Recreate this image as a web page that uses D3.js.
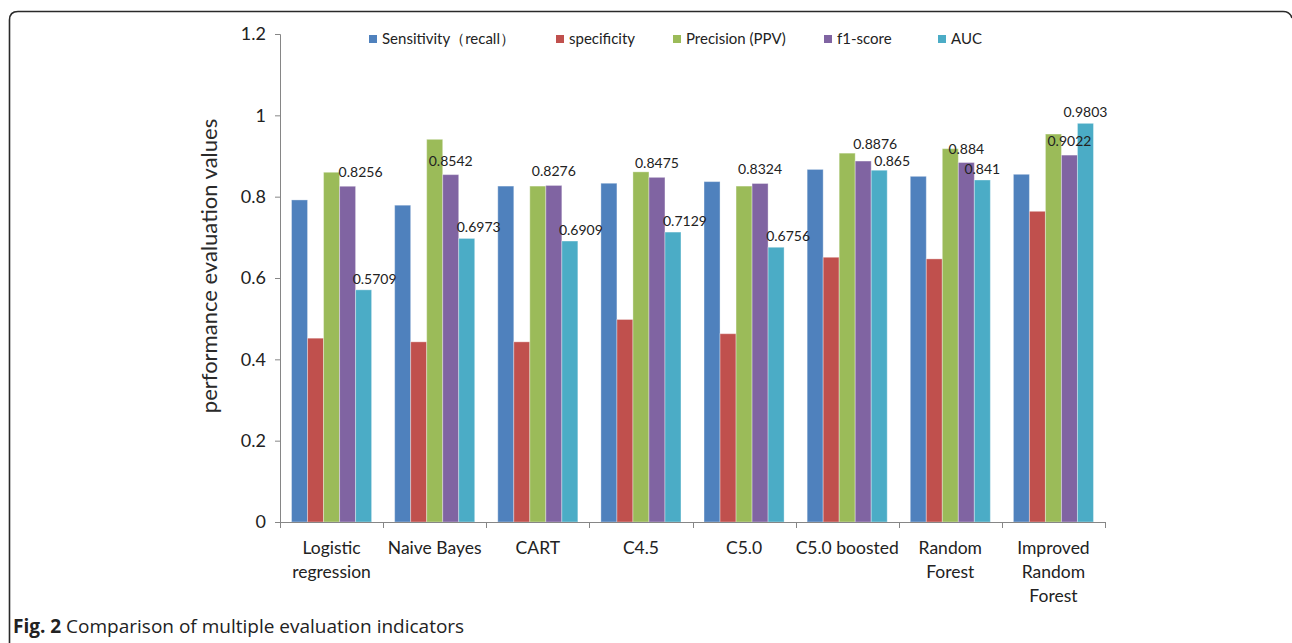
<!DOCTYPE html>
<html>
<head>
<meta charset="utf-8">
<script src="https://cdn.jsdelivr.net/npm/d3@7"></script>
<style>
  html, body { margin: 0; padding: 0; background: #fff; }
  svg { display: block; }
</style>
</head>
<body>
<svg id="chart" width="1292" height="643"></svg>
<script>
// Classifiers compared
const categories = [
  ["Logistic", "regression"],
  ["Naive Bayes"],
  ["CART"],
  ["C4.5"],
  ["C5.0"],
  ["C5.0 boosted"],
  ["Random", "Forest"],
  ["Improved", "Random", "Forest"]
];

const seriesNames = ["Sensitivity（recall）", "specificity", "Precision (PPV)", "f1-score", "AUC"];
const seriesColors = ["#4F81BD", "#C0504D", "#9BBB59", "#8064A2", "#4BACC6"];

// Metric values per classifier
const sensitivity = [0.792, 0.779, 0.826, 0.833, 0.837, 0.867, 0.850, 0.855];
const specificity = [0.452, 0.443, 0.443, 0.498, 0.463, 0.651, 0.647, 0.764];
const precision   = [0.860, 0.941, 0.826, 0.861, 0.826, 0.907, 0.918, 0.954];
const f1score     = [0.8256, 0.8542, 0.8276, 0.8475, 0.8324, 0.8876, 0.884, 0.9022];
const auc         = [0.5709, 0.6973, 0.6909, 0.7129, 0.6756, 0.865, 0.841, 0.9803];

const yTicks = [0, 0.2, 0.4, 0.6, 0.8, 1, 1.2];

// Nudges (px) of the value labels for f1-score and AUC
const f1LabelShift  = [13, 0, 0, 0, 0, 12, 0, 0];
const aucLabelShift = [11, 12, 11, 12, 12, 13, 0, 0];
const f1LabelLift   = [9, 9, 9, 9, 9, 12, 9, 9];
const aucLabelLift  = [6, 6, 6, 6, 6, 4, 6, 6];

const seriesValues = [sensitivity, specificity, precision, f1score, auc];

const svg = d3.select("#chart");
const font = "Lato, 'Open Sans', sans-serif";

// Figure frame
svg.append("path")
  .attr("d", "M9.5,643 L9.5,20 Q9.5,11.5 18,11.5 L1283,11.5 Q1290,11.5 1292,18")
  .attr("fill", "none")
  .attr("stroke", "#2a2a2a")
  .attr("stroke-width", 1.6);

const plot = { left: 280, right: 1105, top: 34, bottom: 522 };

const x0 = d3.scaleBand()
  .domain(d3.range(categories.length))
  .range([plot.left, plot.right])
  .paddingInner(0).paddingOuter(0);

const x1 = d3.scaleBand()
  .domain(d3.range(seriesNames.length))
  .range([0, x0.bandwidth()])
  .paddingInner(0)
  .paddingOuter(0.72);

const y = d3.scaleLinear().domain([0, 1.2]).range([plot.bottom, plot.top]);

const axisColor = "#868686";

// Y axis
const yAxis = svg.append("g")
  .attr("transform", `translate(${plot.left},0)`)
  .call(d3.axisLeft(y).tickValues(yTicks).tickSize(5).tickPadding(9)
    .tickFormat(d => d3.format("~g")(d)));
yAxis.select(".domain").attr("stroke", axisColor);
yAxis.selectAll(".tick line").attr("stroke", axisColor);
yAxis.selectAll(".tick text")
  .attr("fill", "#222")
  .style("font-family", font)
  .style("font-size", "18px");

// Y axis title
svg.append("text")
  .attr("transform", `translate(217,${(plot.top + plot.bottom) / 2 - 12}) rotate(-90)`)
  .attr("text-anchor", "middle")
  .style("font-family", font)
  .style("font-size", "22px")
  .attr("fill", "#2a2a2a")
  .text("performance evaluation values");

// Bars
const groups = svg.append("g").selectAll("g")
  .data(categories)
  .join("g")
  .attr("transform", (d, i) => `translate(${x0(i)},0)`);

groups.selectAll("rect")
  .data((d, i) => seriesValues.map((vals, s) => ({ s, v: vals[i] })))
  .join("rect")
  .attr("x", d => x1(d.s))
  .attr("width", x1.bandwidth())
  .attr("y", d => y(d.v))
  .attr("height", d => y(0) - y(d.v))
  .attr("fill", d => seriesColors[d.s])
  .attr("stroke", "rgba(255,255,255,0.35)")
  .attr("stroke-width", 1);

// X axis (drawn over bar bases)
const xAxisG = svg.append("g");
xAxisG.append("line")
  .attr("x1", plot.left).attr("x2", plot.right)
  .attr("y1", plot.bottom + 0.5).attr("y2", plot.bottom + 0.5)
  .attr("stroke", axisColor);
const boundaries = d3.range(categories.length + 1).map(i => plot.left + i * x0.step());
xAxisG.selectAll("line.tk")
  .data(boundaries)
  .join("line")
  .attr("class", "tk")
  .attr("x1", d => Math.round(d) + 0.5).attr("x2", d => Math.round(d) + 0.5)
  .attr("y1", plot.bottom).attr("y2", plot.bottom + 6)
  .attr("stroke", axisColor);

// Category labels
const catLabels = svg.append("g").selectAll("text")
  .data(categories)
  .join("text")
  .attr("text-anchor", "middle")
  .attr("x", (d, i) => x0(i) + x0.bandwidth() / 2)
  .attr("y", 554)
  .style("font-family", font)
  .style("font-size", "17.5px")
  .attr("fill", "#222");
catLabels.selectAll("tspan")
  .data(d => d)
  .join("tspan")
  .attr("x", function () { return d3.select(this.parentNode).attr("x"); })
  .attr("dy", (d, i) => i === 0 ? 0 : 24)
  .text(d => d);

// Value labels for f1-score and AUC
const labelLayer = svg.append("g")
  .style("font-family", font)
  .style("font-size", "14px")
  .attr("fill", "#222")
  .attr("text-anchor", "middle");

[[3, f1score, f1LabelShift, f1LabelLift], [4, auc, aucLabelShift, aucLabelLift]]
  .forEach(([s, vals, shift, lift]) => {
    labelLayer.selectAll(null)
      .data(vals)
      .join("text")
      .attr("x", (v, i) => x0(i) + x1(s) + x1.bandwidth() / 2 + shift[i])
      .attr("y", (v, i) => y(v) - lift[i])
      .text(v => String(v));
  });

// Legend
const legendX = [369, 556, 673, 824, 938];
const legend = svg.append("g").selectAll("g")
  .data(seriesNames)
  .join("g")
  .attr("transform", (d, i) => `translate(${legendX[i]},33)`);
legend.append("rect")
  .attr("width", 8).attr("height", 8)
  .attr("y", 2)
  .attr("fill", (d, i) => seriesColors[i]);
legend.append("text")
  .attr("x", 13)
  .attr("y", 11)
  .style("font-family", font)
  .style("font-size", "15px")
  .attr("fill", "#222")
  .text(d => d);

// Caption
const cap = svg.append("text")
  .attr("x", 13)
  .attr("y", 633)
  .style("font-family", "'Open Sans', sans-serif")
  .style("font-size", "19px")
  .attr("fill", "#222");
cap.append("tspan").style("font-weight", "bold").text("Fig. 2");
cap.append("tspan").text(" Comparison of multiple evaluation indicators");
</script>
</body>
</html>
